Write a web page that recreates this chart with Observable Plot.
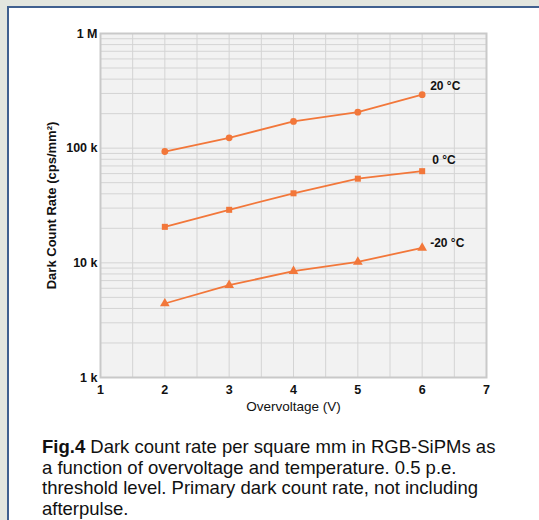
<!DOCTYPE html>
<html>
<head>
<meta charset="utf-8">
<script src="https://cdn.jsdelivr.net/npm/d3@7"></script>
<script src="https://cdn.jsdelivr.net/npm/@observablehq/plot@0.6"></script>
<style>
  html, body { margin: 0; padding: 0; }
  body { width: 539px; height: 520px; background: #e3e6df; position: relative; overflow: hidden; }
  #panel { position: absolute; left: 7px; top: 6px; right: 0; bottom: 0; background: #fff;
           border-top: 2px solid #40608f; border-left: 2px solid #40608f; }
  #chart { position: absolute; left: 0; top: 0; }
  #caption { position: absolute; left: 42px; top: 437px; width: 495px;
             font-family: "Liberation Sans", Arial, Helvetica, sans-serif; font-size: 18.5px;
             line-height: 20.7px; color: #111; white-space: nowrap; }
  #caption b { font-weight: bold; }
</style>
</head>
<body>
<div id="panel"></div>
<div id="chart"></div>
<div id="caption"><b>Fig.4</b> Dark count rate per square mm in RGB-SiPMs as<br>a function of overvoltage and temperature. 0.5 p.e.<br>threshold level. Primary dark count rate, not including<br>afterpulse.</div>
<script>
// Overvoltage (V) at which the dark count rate was measured
const overvoltage = [2, 3, 4, 5, 6];
// Dark count rate (cps/mm²) for each temperature
const rate20C = [93500, 123000, 171000, 206000, 293000];
const rate0C = [20600, 29000, 40400, 54200, 63000];
const rateMinus20C = [4420, 6380, 8460, 10200, 13500];
// Series names and axis tick labels
const seriesNames = ["20 °C", "0 °C", "-20 °C"];
const xTicks = [1, 2, 3, 4, 5, 6, 7];
const yTicks = [1e3, 1e4, 1e5, 1e6];
const yTickLabels = ["1 k", "10 k", "100 k", "1 M"];

const seriesRates = [rate20C, rate0C, rateMinus20C];
const rows = seriesNames.flatMap((name, s) =>
  overvoltage.map((v, i) => ({series: name, v, rate: seriesRates[s][i]})));
const bySeries = name => rows.filter(d => d.series === name);
const lastPoint = name => bySeries(name).slice(-1);

const orange = "#f2773a";
const ink = "#111";
const font = "'Liberation Sans', Arial, Helvetica, sans-serif";
const xGrid = d3.range(1, 7.001, 0.5);
const yGrid = d3.scaleLog().domain([1e3, 1e6]).ticks();

const chart = Plot.plot({
  width: 539,
  height: 420,
  marginLeft: 100,
  marginRight: 53,
  marginTop: 33,
  marginBottom: 43,
  style: {background: "transparent", fontFamily: font, color: ink},
  x: {type: "linear", domain: [1, 7]},
  y: {type: "log", domain: [1e3, 1e6]},
  marks: [
    Plot.frame({fill: "#f2f2f2", stroke: null}),
    Plot.ruleX(xGrid, {stroke: "#d4d4d4", strokeWidth: 1}),
    Plot.ruleY(yGrid, {stroke: "#d4d4d4", strokeWidth: 1}),
    Plot.frame({stroke: "#c9c9c9", strokeWidth: 2}),
    Plot.axisX({ticks: xTicks, tickSize: 0, tickPadding: 8, fontSize: 12.5, fontWeight: "bold", label: null,
      tickFormat: d => String(d)}),
    Plot.axisY({ticks: yTicks, tickSize: 0, tickPadding: 3, fontSize: 12.5, fontWeight: "bold", label: null,
      tickFormat: d => yTickLabels[yTicks.indexOf(d)]}),
    Plot.text(["Overvoltage (V)"], {frameAnchor: "bottom", dy: 33, fontSize: 13.5, fill: ink}),
    Plot.text(["Dark Count Rate (cps/mm²)"], {frameAnchor: "left", textAnchor: "middle", rotate: -90, dx: -49,
      fontSize: 13, fontWeight: "bold", fill: ink}),
    ...seriesNames.map(name => Plot.line(bySeries(name), {x: "v", y: "rate", stroke: orange, strokeWidth: 1.8})),
    Plot.dot(bySeries(seriesNames[0]), {x: "v", y: "rate", symbol: "circle", r: 3.4, fill: orange}),
    Plot.dot(bySeries(seriesNames[1]), {x: "v", y: "rate", symbol: "square", r: 3.4, fill: orange}),
    Plot.dot(bySeries(seriesNames[2]), {x: "v", y: "rate", symbol: "triangle", r: 3.6, fill: orange}),
    Plot.text(lastPoint(seriesNames[0]), {x: "v", y: "rate", text: "series", textAnchor: "start", dx: 8, dy: -8,
      fontSize: 12, fontWeight: "bold", fill: ink}),
    Plot.text(lastPoint(seriesNames[1]), {x: "v", y: "rate", text: "series", textAnchor: "start", dx: 10, dy: -11,
      fontSize: 12, fontWeight: "bold", fill: ink}),
    Plot.text(lastPoint(seriesNames[2]), {x: "v", y: "rate", text: "series", textAnchor: "start", dx: 8, dy: -5,
      fontSize: 12, fontWeight: "bold", fill: ink})
  ]
});
document.getElementById("chart").appendChild(chart);
</script>
</body>
</html>
